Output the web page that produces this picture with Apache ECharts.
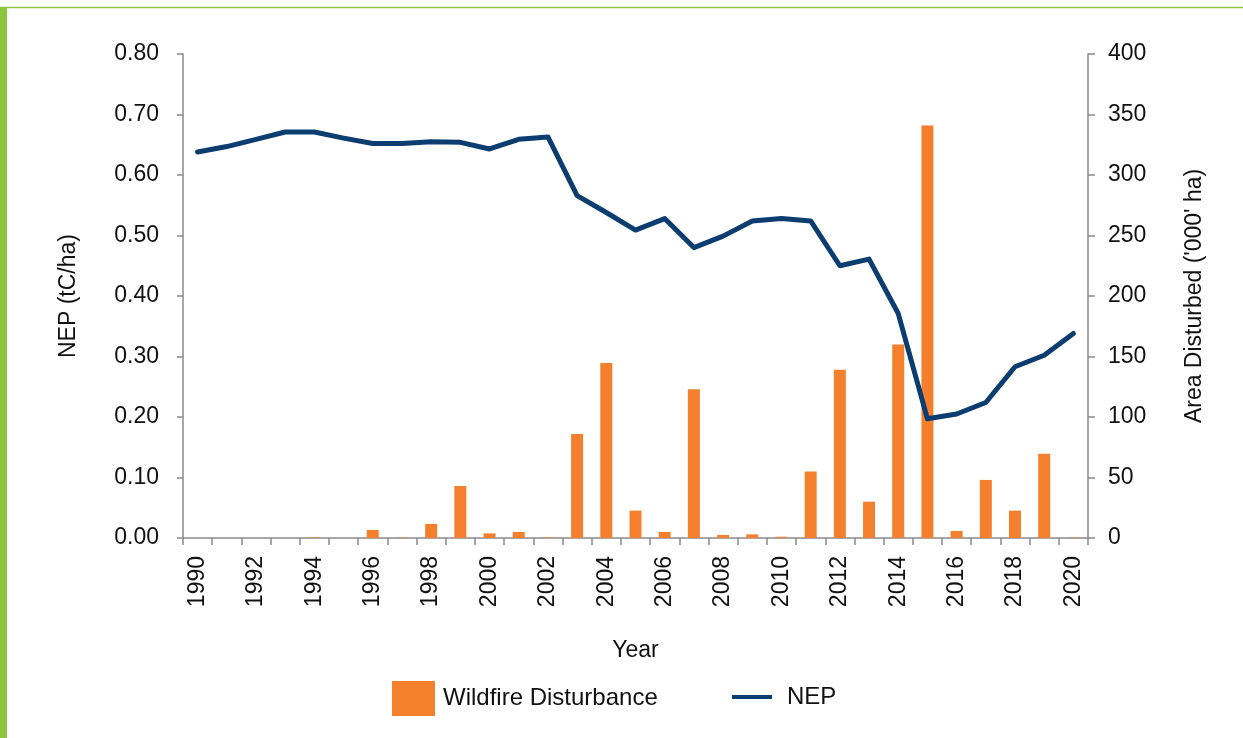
<!DOCTYPE html>
<html>
<head>
<meta charset="utf-8">
<script src="https://cdn.jsdelivr.net/npm/echarts@6/dist/echarts.min.js"></script>
<style>
  html, body { margin: 0; padding: 0; background: #fff; }
  #chart { width: 1243px; height: 738px; }
</style>
</head>
<body>
<div id="chart"></div>
<script>
// 数据
var years = ['1990','1991','1992','1993','1994','1995','1996','1997','1998','1999',
             '2000','2001','2002','2003','2004','2005','2006','2007','2008','2009',
             '2010','2011','2012','2013','2014','2015','2016','2017','2018','2019','2020'];
var wildfire = [0, 0, 0, 0, 0.5, 0, 6.6, 0.3, 11.6, 43,
                3.8, 5, 0.5, 86, 144.6, 22.6, 5, 123, 2.5, 3,
                1, 55, 139, 30, 160, 341, 5.8, 48, 22.6, 69.7, 0.3];
var nep = [0.638, 0.647, 0.659, 0.671, 0.671, 0.661, 0.652, 0.652, 0.655, 0.654,
           0.643, 0.659, 0.663, 0.566, 0.538, 0.509, 0.528, 0.480, 0.499, 0.524,
           0.528, 0.524, 0.450, 0.461, 0.371, 0.197, 0.205, 0.224, 0.283, 0.302, 0.338];
var leftTicks = ['0.00','0.10','0.20','0.30','0.40','0.50','0.60','0.70','0.80'];

var FONT = 'Liberation Sans, Arial, Helvetica, sans-serif';
var FS = 23;
var ORANGE = '#f47f2d';
var NAVY = '#0c3d71';
var AXIS = '#8a8a8a';

var myChart = echarts.init(document.getElementById('chart'));

var option = {
  animation: false,
  textStyle: { fontFamily: FONT, color: '#111' },
  // 边框
  graphic: [
    { type: 'rect', shape: { x: 0, y: 7, width: 7, height: 731 }, style: { fill: '#8cc63f' }, silent: true },
    { type: 'line', shape: { x1: 0, y1: 7.5, x2: 1243, y2: 7.5 }, style: { stroke: '#8cc63f', lineWidth: 1.5 }, silent: true }
  ],
  grid: { left: 183, right: 155, top: 54, bottom: 200, containLabel: false },
  legend: [
    {
      left: 387, top: 676,
      itemWidth: 43, itemHeight: 35,
      data: [{ name: 'Wildfire Disturbance', icon: 'rect' }],
      textStyle: { fontSize: 24, fontFamily: FONT, color: '#111', padding: [0, 0, 0, 3] }
    },
    {
      left: 727, top: 680,
      itemWidth: 40, itemHeight: 4,
      data: [{ name: 'NEP', icon: 'rect' }],
      itemStyle: { color: NAVY },
      textStyle: { fontSize: 24, fontFamily: FONT, color: '#111', padding: [0, 0, 0, 10] }
    }
  ],
  xAxis: {
    type: 'category',
    data: years,
    boundaryGap: true,
    name: 'Year',
    nameLocation: 'middle',
    nameGap: 101,
    nameTextStyle: { fontSize: FS, fontFamily: FONT, color: '#111' },
    axisLine: { lineStyle: { color: AXIS, width: 1.5 } },
    axisTick: { show: true, interval: 0, length: 7, lineStyle: { color: AXIS, width: 1.5 } },
    axisLabel: { interval: 1, rotate: 90, margin: 18, fontSize: FS, fontFamily: FONT, color: '#111' }
  },
  yAxis: [
    {
      type: 'value',
      min: 0, max: 0.8, interval: 0.1,
      name: 'NEP (tC/ha)',
      nameLocation: 'middle',
      nameGap: 103,
      nameRotate: 90,
      nameTextStyle: { fontSize: FS, fontFamily: FONT, color: '#111' },
      axisLine: { show: true, lineStyle: { color: AXIS, width: 1.5 } },
      axisTick: { show: true, length: 6, lineStyle: { color: AXIS, width: 1.5 } },
      splitLine: { show: false },
      axisLabel: {
        margin: 24, fontSize: FS, fontFamily: FONT, color: '#111',
        formatter: function (v) { return leftTicks[Math.round(v * 10)]; }
      }
    },
    {
      type: 'value',
      min: 0, max: 400, interval: 50,
      name: "Area Disturbed ('000' ha)",
      nameLocation: 'middle',
      nameGap: 95,
      nameRotate: 90,
      nameTextStyle: { fontSize: FS, fontFamily: FONT, color: '#111' },
      axisLine: { show: true, lineStyle: { color: AXIS, width: 1.5 } },
      axisTick: { show: true, length: 7, lineStyle: { color: AXIS, width: 1.5 } },
      splitLine: { show: false },
      axisLabel: { margin: 20, fontSize: FS, fontFamily: FONT, color: '#111' }
    }
  ],
  series: [
    {
      name: 'Wildfire Disturbance',
      type: 'bar',
      yAxisIndex: 1,
      barWidth: 12,
      itemStyle: { color: ORANGE },
      data: wildfire
    },
    {
      name: 'NEP',
      type: 'line',
      yAxisIndex: 0,
      showSymbol: false,
      symbol: 'none',
      lineStyle: { color: NAVY, width: 5, cap: 'round', join: 'round' },
      itemStyle: { color: NAVY },
      data: nep
    }
  ]
};

// 绘制图表
myChart.setOption(option);
</script>
</body>
</html>
